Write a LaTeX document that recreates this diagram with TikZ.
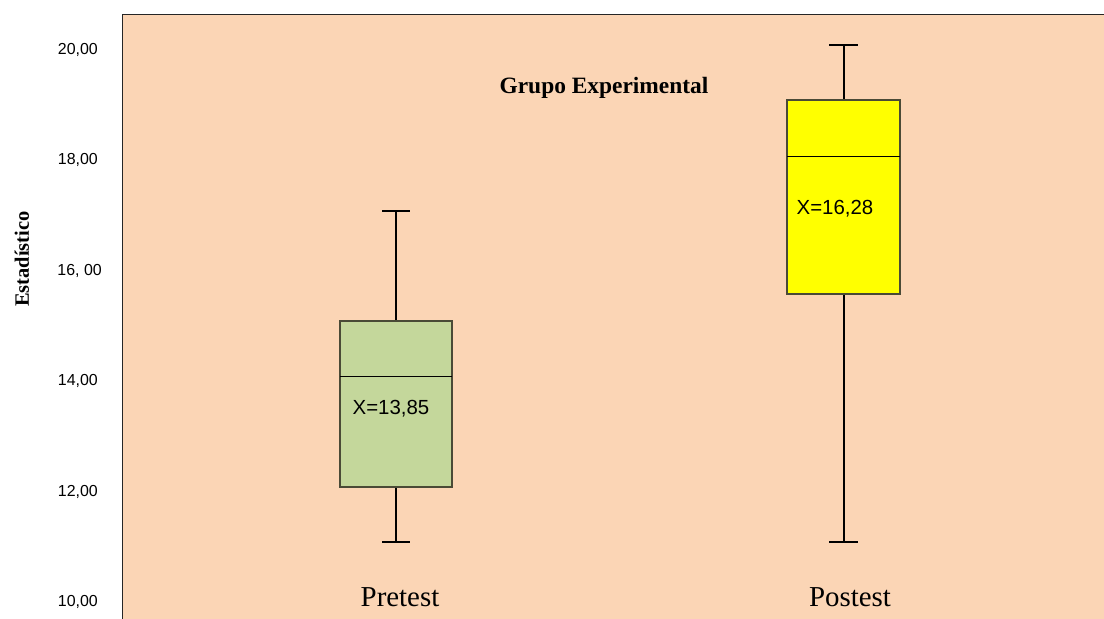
\documentclass[tikz,border=0pt]{standalone}
\usepackage{fontspec}
\setmainfont{Liberation Serif}
\newfontfamily\arialfont{Liberation Sans}
\definecolor{plotbg}{HTML}{FBD5B5}
\definecolor{pregreen}{HTML}{C4D79B}
\definecolor{postyellow}{HTML}{FFFF00}
\definecolor{boxedge}{HTML}{4A4A36}
\tikzset{
  tick/.style={anchor=east, font=\arialfont\fontsize{16}{18}\selectfont, inner sep=0pt},
  boxbody/.style={draw=boxedge, line width=1.3bp},
  whisker/.style={draw=black, line width=1.6bp},
  medianline/.style={draw=black, line width=0.9bp},
  meanlabel/.style={font=\arialfont\fontsize{20.5}{23}\selectfont, inner sep=0pt},
  grouplabel/.style={font=\fontsize{29}{32}\selectfont, inner sep=0pt}
}
\begin{document}
\begin{tikzpicture}[x=1bp,y=-1bp]
\useasboundingbox (0,0) rectangle (1104,619);
% plot area
\fill[plotbg] (122.5,14.5) rectangle (1104,619);
\draw[line width=1.2bp, black!85] (122.5,619) -- (122.5,14.5) -- (1104,14.5);
% axis tick labels (value v sits at y = 45 + (20 - v) * 55.2)
\node[tick] (t20) at (98,50) {20,00};
\node[tick] (t18) at (98,160) {18,00};
\node[tick] (t16) at (102,271) {16, 00};
\node[tick] (t14) at (98,381) {14,00};
\node[tick] (t12) at (98,492) {12,00};
\node[tick] (t10) at (98,602) {10,00};
\node[rotate=90, font=\bfseries\fontsize{20.5}{22}\selectfont, inner sep=0pt] (ylab) at (22,259) {Estadístico};
\node[font=\bfseries\fontsize{23.5}{26}\selectfont, inner sep=0pt] (title) at (604,88) {Grupo Experimental};
% Pretest: min 11, Q1 12, median 14, Q3 15, max 17
\coordinate (pmax) at (396,211);
\coordinate (pmin) at (396,542);
\coordinate (pq3) at (396,321);
\coordinate (pq1) at (396,487);
\draw[whisker] (pmax) -- (pq3);
\draw[whisker] (pq1) -- (pmin);
\draw[whisker] (382,211) -- (410,211);
\draw[whisker] (382,542) -- (410,542);
\filldraw[boxbody, fill=pregreen] (340,321) rectangle (452,487);
\draw[medianline] (340,376) -- (452,376);
\node[meanlabel] (pmean) at (391,409) {X=13,85};
\node[grouplabel] (pname) at (400,597) {Pretest};
% Postest: min 11, Q1 15.5, median 18, Q3 19, max 20
\coordinate (qmax) at (844,45);
\coordinate (qmin) at (844,542);
\coordinate (qq3) at (844,100);
\coordinate (qq1) at (844,294);
\draw[whisker] (qmax) -- (qq3);
\draw[whisker] (qq1) -- (qmin);
\draw[whisker] (829,45) -- (858,45);
\draw[whisker] (829,542) -- (858,542);
\filldraw[boxbody, fill=postyellow] (787,100) rectangle (900,294);
\draw[medianline] (787,156) -- (900,156);
\node[meanlabel] (qmean) at (835,209) {X=16,28};
\node[grouplabel] (qname) at (850,597) {Postest};
\end{tikzpicture}
\end{document}
